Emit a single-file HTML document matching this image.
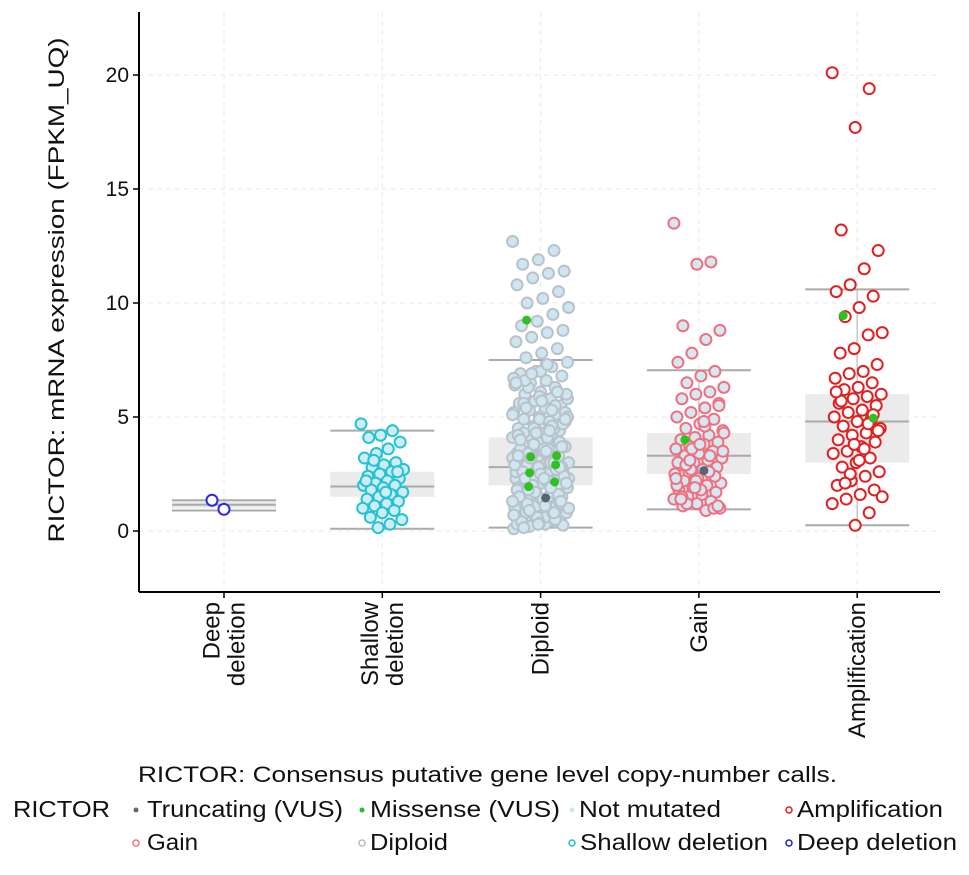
<!DOCTYPE html>
<html><head><meta charset="utf-8"><style>
body{margin:0;background:#fff;font-family:"Liberation Sans",sans-serif}
svg text{font-family:"Liberation Sans",sans-serif;fill:#111}
</style></head><body>
<svg id="chart" width="969" height="870" xmlns="http://www.w3.org/2000/svg">
<g id="grid"></g>
<g id="boxes"></g>
<g id="points"></g>
<g id="axes"></g>
<text transform="translate(64,290) rotate(-90)" text-anchor="middle" font-size="22" textLength="505" lengthAdjust="spacingAndGlyphs">RICTOR: mRNA expression (FPKM_UQ)</text>
<text x="138" y="782" font-size="22" textLength="699" lengthAdjust="spacingAndGlyphs">RICTOR: Consensus putative gene level copy-number calls.</text>
<g font-size="23">
<text x="13" y="817" textLength="97" lengthAdjust="spacingAndGlyphs">RICTOR</text>
<circle cx="136" cy="810" r="2.5" fill="#5a6a78"/>
<text x="147" y="817" textLength="196" lengthAdjust="spacingAndGlyphs">Truncating (VUS)</text>
<circle cx="362" cy="810" r="2.5" fill="#22c020"/>
<text x="370" y="817" textLength="190" lengthAdjust="spacingAndGlyphs">Missense (VUS)</text>
<circle cx="572" cy="810" r="2.5" fill="#cfe8f0"/>
<text x="579" y="817" textLength="142" lengthAdjust="spacingAndGlyphs">Not mutated</text>
<circle cx="789" cy="810" r="3" fill="none" stroke="#e02020" stroke-width="1.5"/>
<text x="797" y="817" textLength="146" lengthAdjust="spacingAndGlyphs">Amplification</text>
<circle cx="136" cy="843" r="3" fill="none" stroke="#f07080" stroke-width="1.5"/>
<text x="147" y="850" textLength="51" lengthAdjust="spacingAndGlyphs">Gain</text>
<circle cx="362" cy="843" r="3" fill="none" stroke="#bbb" stroke-width="1.5"/>
<text x="370" y="850" textLength="78" lengthAdjust="spacingAndGlyphs">Diploid</text>
<circle cx="572" cy="843" r="3" fill="none" stroke="#20c0d0" stroke-width="1.5"/>
<text x="580" y="850" textLength="188" lengthAdjust="spacingAndGlyphs">Shallow deletion</text>
<circle cx="789" cy="843" r="3" fill="none" stroke="#2020e0" stroke-width="1.5"/>
<text x="797" y="850" textLength="160" lengthAdjust="spacingAndGlyphs">Deep deletion</text>
</g>
</svg>
<script>
const categories=["Deep deletion","Shallow deletion","Diploid","Gain","Amplification"];
const catLabels=[["Deep","deletion"],["Shallow","deletion"],["Diploid"],["Gain"],["Amplification"]];
const yTicks=[0,5,10,15,20];
const whiskLo=[0.9,0.1,0.15,0.95,0.25];
const q1=[1.0,1.5,2.0,2.5,3.0];
const median=[1.15,1.95,2.8,3.3,4.8];
const q3=[1.3,2.6,4.1,4.3,6.0];
const whiskHi=[1.35,4.4,7.5,7.05,10.6];
const deepVals=[1.35,0.95];
const shallowVals=[4.7,4.4,4.2,4.1,3.9,3.6,3.4,3.2,3.0,2.9,2.8,2.7,2.6,2.5,2.4,2.3,2.2,2.1,2.0,2.0,1.9,1.8,1.7,1.6,1.5,1.4,1.3,1.2,1.1,1.0,0.9,0.8,0.6,0.5,0.3,0.15,2.2,2.6,1.7,3.1];
const diploidVals=[12.7,12.3,11.9,11.7,11.4,11.3,11.1,10.8,10.5,10.2,10.0,9.8,9.5,9.2,9.0,8.8,8.7,8.5,8.3,8.0,7.8,7.6,7.4,7.2,7.0,6.9,6.8,6.6,6.5,6.4,6.2,6.1,6.0,5.9,5.8,5.7,5.6,5.5,5.4,5.3,5.2,5.1,5.0,4.9,4.8,4.7,4.6,4.5,4.4,4.3,4.2,4.1,4.0,3.9,3.8,3.7,3.6,3.5,3.4,3.3,3.2,3.1,3.0,2.9,2.8,2.7,2.6,2.5,2.4,2.3,2.2,2.1,2.0,1.9,1.8,1.7,1.6,1.5,1.4,1.3,1.2,1.1,1.0,0.9,0.8,0.7,0.6,0.5,0.4,0.3,0.2,0.1,5.5,4.9,4.3,3.7,3.1,2.5,1.9,1.3,0.7,6.3,5.1,4.5,3.3,2.7,2.1,1.5,0.9,0.3,3.9,3.5,2.9,2.3,1.7,1.1,0.5,4.7,4.1,3.3,2.6,2.0,1.4,0.8,5.8,5.3,4.4,3.6,2.8,2.2,1.6,1.0,0.4,7.0,6.6,6.0,3.0,2.4,1.8,1.2,0.6,0.2,
6.7,6.3,5.9,5.6,5.2,4.8,4.5,4.2,3.9,3.6,3.4,3.2,3.0,2.8,2.6,2.4,2.2,2.0,1.8,1.6,1.4,1.2,1.0,0.8,0.6,0.4,0.25,7.3,6.9,6.5,6.1,5.7,5.4,5.0,4.6,4.3,4.0,3.7,3.5,3.2,2.9,2.7,2.5,2.3,2.1,1.9,1.7,1.5,1.3,1.1,0.9,0.7,0.5,0.35,0.15,4.9,4.4,3.8,3.3,2.8,2.3,1.8,1.3,0.8,0.3];
const gainVals=[13.5,11.8,11.7,9.0,8.8,8.4,7.8,7.4,7.0,6.8,6.5,6.3,6.1,6.0,5.8,5.6,5.4,5.2,5.0,4.9,4.7,4.5,4.4,4.2,4.1,4.0,3.9,3.8,3.7,3.6,3.5,3.4,3.3,3.2,3.1,3.0,2.9,2.8,2.7,2.6,2.5,2.4,2.3,2.2,2.1,2.0,1.9,1.8,1.7,1.6,1.5,1.4,1.3,1.2,1.1,1.0,0.9,3.6,3.0,2.4,1.8,1.2,4.3,3.3,2.2,1.5,5.5,4.6,2.7,2.0,1.0,3.8,2.9,3.5,2.6,1.9,1.4,1.1,4.8,3.1,2.3];
const ampVals=[20.1,19.4,17.7,13.2,12.3,11.5,10.8,10.5,10.3,9.8,9.4,8.7,8.6,8.0,7.8,7.3,7.0,6.9,6.7,6.5,6.3,6.2,6.0,5.9,5.8,5.6,5.5,5.3,5.2,5.0,4.9,4.8,4.6,4.5,4.3,4.2,4.0,3.9,3.7,3.5,3.4,3.2,3.0,2.8,2.6,2.4,2.2,2.0,1.8,1.6,1.4,1.2,0.8,0.25,5.7,4.4,3.6,2.5,6.1,5.1,3.1,2.1,1.5,4.7,3.8];
const allVals=[deepVals,shallowVals,diploidVals,gainVals,ampVals];
const missenseVals=[[],[],[9.25,3.3,3.25,2.9,2.55,2.15,1.95],[4.0],[9.45,4.95]];
const truncVals=[[],[],[1.45],[2.65],[]];
const strokes=["#2a2ae0","#22c4d4","#b8c2ca","#f07080","#e02020"];
const fills=["#fff","#cfecf2","#cfe6f0","#d4e8f2","#fff"];
const jitterScale=[0,0.85,1.12,1.0,1.0];

const NS="http://www.w3.org/2000/svg";
const L=139,R=940,T=12,B=592;
const yS=v=>531-22.8*v;
const xS=i=>224+158.3*i;
function mk(t,a,p){const e=document.createElementNS(NS,t);for(const k in a)e.setAttribute(k,a[k]);p.appendChild(e);return e;}
const grid=document.getElementById('grid'),boxes=document.getElementById('boxes'),pts=document.getElementById('points'),axes=document.getElementById('axes');
yTicks.forEach(v=>{const l=mk('line',{x1:L,x2:R,y1:yS(v),y2:yS(v),stroke:'#e8e8e8','stroke-dasharray':'5,4'},grid);

});
categories.forEach((c,i)=>{const l=mk('line',{x1:xS(i),x2:xS(i),y1:T,y2:B,stroke:'#e8e8e8','stroke-dasharray':'5,4'},grid);

});
categories.forEach((c,i)=>{const x=xS(i),hw=52;
const g=mk('g',{},boxes);


mk('rect',{x:x-hw,y:yS(q3[i]),width:hw*2,height:yS(q1[i])-yS(q3[i]),fill:'#ebebeb'},g);
mk('line',{x1:x,x2:x,y1:yS(whiskHi[i]),y2:yS(whiskLo[i]),stroke:'#c8c8c8','stroke-width':1.5},g);
[whiskLo[i],median[i],whiskHi[i]].forEach(v=>mk('line',{x1:x-hw,x2:x+hw,y1:yS(v),y2:yS(v),stroke:'#aaa','stroke-width':2},g));
});
allVals.forEach((vals,i)=>{vals.forEach((v,j)=>{
const off=i===0?(j===0?-12:0):(((j*37)%51)-25)*jitterScale[i];
const c=mk('circle',{cx:xS(i)+off,cy:yS(v),r:5.5,fill:fills[i],stroke:strokes[i],'stroke-width':2},pts);

});});
missenseVals.forEach((vals,i)=>vals.forEach((v,j)=>{const off=(j%2?14:-14)+((j*7)%5);
const c=mk('circle',{cx:xS(i)+off,cy:yS(v),r:4.5,fill:'#30c020'},pts);

}));
truncVals.forEach((vals,i)=>vals.forEach(v=>{const c=mk('circle',{cx:xS(i)+5,cy:yS(v),r:4.5,fill:'#556677'},pts);

}));
const ya=mk('line',{x1:L,x2:L,y1:T,y2:B,stroke:'#000','stroke-width':2},axes);


const xa=mk('line',{x1:L,x2:R,y1:B,y2:B,stroke:'#000','stroke-width':2},axes);


yTicks.forEach(v=>{mk('line',{x1:L-6,x2:L,y1:yS(v),y2:yS(v),stroke:'#000','stroke-width':1.5},axes);
const t=mk('text',{x:L-10,y:yS(v)+7,'text-anchor':'end','font-size':21},axes);t.textContent=v;

});
categories.forEach((c,i)=>{const x=xS(i);mk('line',{x1:x,x2:x,y1:B,y2:B+6,stroke:'#000','stroke-width':1.5},axes);
const lines=catLabels[i];
lines.forEach((s,k)=>{const off=(k-(lines.length-1)/2)*25;
const t=mk('text',{transform:`translate(${x+8+off},${B+10}) rotate(-90)`,'text-anchor':'end','font-size':24},axes);t.textContent=s;

});});
</script>
</body></html>
